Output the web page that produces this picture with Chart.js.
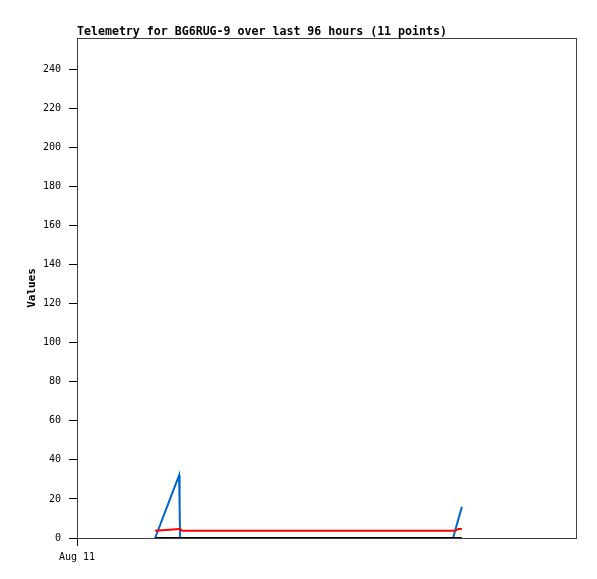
<!DOCTYPE html>
<html><head><meta charset="utf-8">
<script src="https://cdn.jsdelivr.net/npm/chart.js@4/dist/chart.umd.min.js"></script>
<style>html,body{margin:0;padding:0;background:#fff}#wrap{width:597px;height:579px}</style>
</head><body><div id="wrap"><canvas id="c" width="597" height="579"></canvas></div>
<script>
const titleText = 'Telemetry for BG6RUG-9 over last 96 hours (11 points)';
const hours = [15.0, 18.4, 19.6, 19.7, 19.8, 20.2, 45.0, 72.2, 72.8, 73.2, 73.9];
const blueVals = [0, 23.7, 32, 16, 0, 0, 0, 0, 5.6, 9.4, 16];
const redVals = [3.7, 4.4, 4.6, 4.6, 4.6, 3.7, 3.7, 3.7, 3.9, 4.6, 4.6];
const blackVals = [0, 0, 0, 0, 0, 0, 0, 0, 0, 0, 0];
const yTicks = [0, 20, 40, 60, 80, 100, 120, 140, 160, 180, 200, 220, 240];
const xTickLabels = ['Aug 11'];
const xTickValues = [0];

const pts = vals => hours.map((h, i) => ({x: h, y: vals[i]}));
const mono = 'DejaVu Sans Mono, monospace';

const frame = {
  id: 'frame',
  afterDraw(chart) {
    const {ctx, chartArea: a} = chart;
    ctx.save();
    ctx.strokeStyle = '#404040';
    ctx.lineWidth = 1;
    ctx.strokeRect(a.left + 0.5, a.top + 0.5, a.right - a.left - 1, a.bottom - a.top);
    ctx.fillStyle = '#000';
    ctx.font = 'bold 11.6px ' + mono;
    ctx.textBaseline = 'alphabetic';
    ctx.textAlign = 'left';
    ctx.fillText(titleText, a.left, a.top - 3);
    ctx.restore();
  }
};

new Chart(document.getElementById('c'), {
  type: 'line',
  data: {
    datasets: [
      {data: pts(blackVals), borderColor: '#000', borderWidth: 2, pointRadius: 0, tension: 0},
      {data: pts(redVals), borderColor: '#ff0000', borderWidth: 2, pointRadius: 0, tension: 0},
      {data: pts(blueVals), borderColor: '#0066cc', borderWidth: 2, pointRadius: 0, tension: 0}
    ]
  },
  options: {
    responsive: false,
    animation: false,
    layout: {padding: {top: 38, right: 20, left: 0, bottom: 0}},
    plugins: {legend: {display: false}, tooltip: {enabled: false}, title: {display: false}},
    scales: {
      x: {
        type: 'linear', min: 0, max: 96,
        afterFit(s) { s.height = 41; },
        afterBuildTicks(s) { s.ticks = xTickValues.map(v => ({value: v})); },
        grid: {drawOnChartArea: false, tickLength: 8, color: '#000'},
        border: {display: false},
        ticks: {
          autoSkip: false, maxRotation: 0, color: '#000', padding: 5,
          font: {family: mono, size: 10},
          callback: (v, i) => xTickLabels[i]
        }
      },
      y: {
        min: 0, max: 256,
        afterFit(s) { s.width = 77; },
        afterBuildTicks(s) { s.ticks = yTicks.map(v => ({value: v})); },
        grid: {drawOnChartArea: false, tickLength: 8, color: '#000'},
        border: {display: false},
        title: {display: true, text: 'Values', color: '#000', font: {family: mono, size: 11, weight: 'bold'}, padding: {top: 26, bottom: 0}},
        ticks: {color: '#000', padding: 8, font: {family: mono, size: 10}}
      }
    }
  },
  plugins: [frame]
});
</script></body></html>
